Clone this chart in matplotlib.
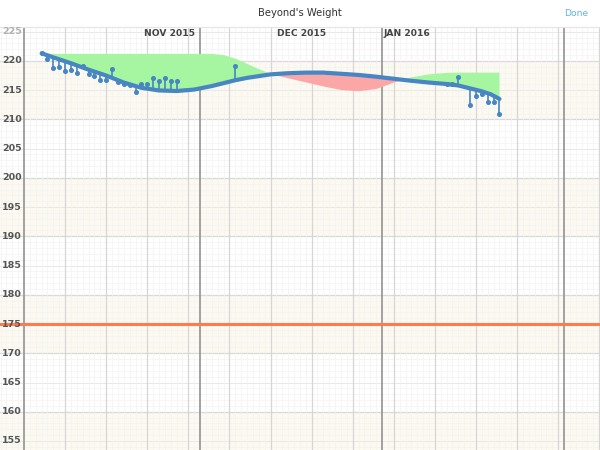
import numpy as np
import matplotlib
matplotlib.use("Agg")
from matplotlib import pyplot as plt
from matplotlib.transforms import blended_transform_factory

# days counted from Nov 1 2015 (day 0)
trend_days = [3, 5, 8, 11, 14, 17, 20, 23, 26, 29, 32, 34, 36, 38, 40, 42, 45, 48, 51,
              54, 57, 60, 63, 66, 69, 72, 74, 76, 78, 79.5, 81]
trend_vals = [221.3, 220.6, 219.6, 218.5, 217.5, 216.3, 215.4, 214.95, 214.85, 215.1,
              215.7, 216.2, 216.7, 217.1, 217.4, 217.7, 217.9, 218.0, 218.0, 217.8,
              217.6, 217.3, 216.95, 216.6, 216.3, 216.05, 215.8, 215.3, 214.8, 214.3, 213.5]
ref_vals = [221.3, 221.2, 221.2, 221.2, 221.2, 221.2, 221.2, 221.2, 221.2, 221.2,
            221.2, 221.0, 220.4, 219.5, 218.6, 217.8, 217.1, 216.4, 215.7, 215.1,
            214.9, 215.3, 216.4, 217.2, 217.7, 217.95, 218.0, 218.0, 218.0, 218.0, 218.0]

weigh_days = [3, 4, 5, 6, 7, 8, 9, 10, 11, 12, 13, 14, 15, 16, 17, 18, 19, 20, 21, 22,
              23, 24, 25, 26, 36, 72, 73, 74, 76, 77, 78, 79, 80, 81]
weights = [221.3, 220.4, 218.8, 219.0, 218.2, 218.4, 218.0, 219.2, 217.7, 217.4, 216.7,
           216.7, 218.6, 216.4, 216.0, 215.9, 214.6, 216.0, 216.1, 217.1, 216.5, 217.1,
           216.5, 216.5, 219.1, 216.1, 216.0, 217.3, 212.4, 214.0, 214.3, 213.0, 213.0, 210.9]

goal = 175
y_labels = [155, 160, 165, 170, 175, 180, 185, 190, 195, 200, 205, 210, 215, 220, 225]
month_days = [0, 30, 61, 92]
month_names = ["NOV 2015", "DEC 2015", "JAN 2016"]
month_label_days = [29.1, 43.1, 61.2]
month_label_ha = ["right", "left", "left"]

blue = "#4786c2"

fig = plt.figure(figsize=(6, 4.5), dpi=100)
ax = fig.add_axes([0, 0, 1, 423 / 450])
ax.set_xlim(-4.09, 98.13)
ax.set_ylim(153.46, 225.8)
for s in ax.spines.values():
    s.set_visible(False)
ax.spines["top"].set_visible(True)
ax.spines["top"].set_color("#e4e4e4")
ax.spines["top"].set_linewidth(0.8)
ax.set_xticks([])
ax.set_yticks([])

# beige bands
for lo in range(150, 230, 20):
    ax.axhspan(lo, lo + 10, color="#fbf9f0", zorder=0, lw=0)

# grid
for v in range(150, 230):
    if v % 10 == 0:
        c, w = "#d8d8d8", 0.9
    elif v % 5 == 0:
        c, w = "#e8e8e8", 0.7
    else:
        c, w = "#f3f3f3", 0.5
    ax.axhline(v, color=c, lw=w, zorder=1)
for d in range(-4, 99):
    if d in month_days:
        ax.axvline(d, color="#9a9a9a", lw=1.3, zorder=1.5)
    elif d % 7 == 0:
        ax.axvline(d, color="#d6d6d6", lw=0.9, zorder=1.2)
    else:
        ax.axvline(d, color="#f2f2f2", lw=0.5, zorder=1)

t = np.array(trend_vals)
r = np.array(ref_vals)
ax.fill_between(trend_days, t, r, where=r >= t, interpolate=True,
                color="#a6f5a0", lw=0, zorder=2)
ax.fill_between(trend_days, t, r, where=r < t, interpolate=True,
                color="#fba7a7", lw=0, zorder=2)

ax.axhline(goal, color="#ff7b4f", lw=2.2, zorder=3)

# stems from trend to each weigh-in
base = np.interp(weigh_days, trend_days, trend_vals)
ax.vlines(weigh_days, base, weights, color=blue, lw=1.2, zorder=4)
ax.plot(weigh_days, weights, "o", color=blue, ms=2.6, zorder=5)
ax.plot(trend_days, trend_vals, color=blue, lw=3.0, solid_capstyle="round",
        solid_joinstyle="round", zorder=6)

tr = blended_transform_factory(ax.transAxes, ax.transData)
for v in y_labels:
    col = "#b0b0b0" if v == 225 else "#555555"
    ax.text(0.003, v, str(v), transform=tr, ha="left", va="center",
            fontsize=6.8, fontweight="bold", color=col, zorder=7)

for name, d, ha in zip(month_names, month_label_days, month_label_ha):
    ax.text(d, 224.7, name, ha=ha, va="center", fontsize=6.6,
            fontweight="bold", color="#444444", zorder=7)

fig.text(0.5, 1 - 13 / 450, "Beyond's Weight", ha="center", va="center",
         fontsize=7.2, color="#333333")
fig.text(576 / 600, 1 - 13 / 450, "Done", ha="center", va="center",
         fontsize=6.6, color="#5eb3e4")

fig.savefig("out.png", dpi=100)
